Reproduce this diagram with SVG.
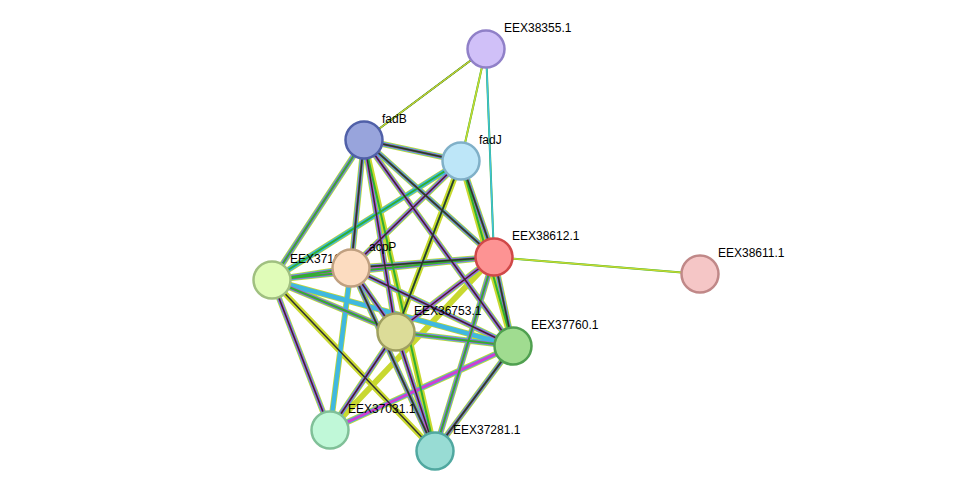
<svg xmlns="http://www.w3.org/2000/svg" width="976" height="497" viewBox="0 0 976 497">
<style>
.a{stroke:#c8d830;stroke-width:6;fill:none}
.b{stroke:#40b8e0;stroke-width:4.5;fill:none}
.c{stroke:#d040d0;stroke-width:3;fill:none}
.d{stroke:#303030;stroke-width:1.5;fill:none}
.g{stroke:#30b030;stroke-width:2;fill:none}
.n{stroke-width:2.5}
text{font-family:"Liberation Sans",Arial,sans-serif;font-size:12px;fill:#000}
</style>
<defs>
<line id="e0" x1="0" y1="0" x2="0" y2="0"/>
</defs>
<g id="connectors">
<g id="full">
<path class="a" d="M364 140L461 161M364 140L494 257M364 140L272 280M364 140L351 268M364 140L396 332M364 140L513 346M364 140L435 451M461 161L494 257M461 161L272 280M461 161L351 268M461 161L396 332M461 161L513 346M494 257L272 280M494 257L351 268M494 257L396 332M494 257L513 346M494 257L330 430M494 257L435 451M272 280L351 268M272 280L396 332M272 280L513 346M272 280L330 430M272 280L435 451M351 268L396 332M351 268L513 346M351 268L330 430M351 268L435 451M396 332L513 346M396 332L330 430M396 332L435 451M513 346L330 430M513 346L435 451"/>
<path class="b" d="M364 140L461 161M364 140L494 257M364 140L272 280M364 140L351 268M364 140L396 332M364 140L513 346M461 161L494 257M461 161L272 280M461 161L351 268M494 257L272 280M494 257L351 268M494 257L396 332M494 257L513 346M494 257L435 451M272 280L351 268M272 280L396 332M272 280L513 346M272 280L330 430M351 268L396 332M351 268L513 346M351 268L330 430M351 268L435 451M396 332L513 346M396 332L330 430M396 332L435 451M513 346L330 430M513 346L435 451"/>
<path class="c" d="M364 140L461 161M364 140L494 257M364 140L272 280M364 140L351 268M364 140L396 332M364 140L513 346M461 161L494 257M461 161L351 268M494 257L272 280M494 257L351 268M494 257L396 332M494 257L513 346M494 257L435 451M272 280L351 268M272 280L396 332M272 280L330 430M351 268L396 332M351 268L513 346M351 268L435 451M396 332L513 346M396 332L330 430M396 332L435 451M513 346L330 430M513 346L435 451"/>
<path class="g" d="M486 49L364 140M486 49L461 161M486 49L494 257M494 257L700 274M364 140L461 161M364 140L494 257M364 140L272 280M364 140L351 268M364 140L435 451M461 161L494 257M461 161L272 280M461 161L396 332M461 161L513 346M494 257L272 280M494 257L351 268M494 257L513 346M494 257L435 451M272 280L351 268M272 280L396 332M351 268L435 451M396 332L513 346M513 346L435 451"/>
<path class="d" d="M486 49L364 140M364 140L461 161M364 140L494 257M364 140L351 268M364 140L396 332M364 140L513 346M461 161L494 257M461 161L351 268M461 161L396 332M494 257L351 268M494 257L396 332M494 257L513 346M272 280L330 430M272 280L435 451M351 268L396 332M351 268L513 346M351 268L435 451M396 332L330 430M396 332L435 451M513 346L435 451"/>
<path stroke="#c8d830" stroke-width="1.5" fill="none" d="M486 49L364 140M486 49L461 161M494 257L700 274"/>
<path stroke="#40c0e0" stroke-width="1.5" fill="none" d="M486 49L494 257"/>
</g>
</g>
<g id="nodes">
<g id="EEX38355.1"><circle class="n" cx="486" cy="49" r="18.5" fill="#d0c0f8" stroke="#9080c8"/><text x="504" y="32">EEX38355.1</text></g>
<g id="fadB"><circle class="n" cx="364" cy="140" r="18.5" fill="#98a4dc" stroke="#5060a8"/><text x="382" y="123">fadB</text></g>
<g id="fadJ"><circle class="n" cx="461" cy="161" r="18.5" fill="#bde6f8" stroke="#80b0c8"/><text x="479" y="144">fadJ</text></g>
<g id="EEX38612.1"><circle class="n" cx="494" cy="257" r="18.5" fill="#fd9393" stroke="#d04848"/><text x="512" y="240">EEX38612.1</text></g>
<g id="EEX38611.1"><circle class="n" cx="700" cy="274" r="18.5" fill="#f5c6c6" stroke="#c08888"/><text x="718" y="257">EEX38611.1</text></g>
<g id="EEX37164.1"><circle class="n" cx="272" cy="280" r="18.5" fill="#e0fcb8" stroke="#a0c080"/><text x="290" y="263">EEX37164.1</text></g>
<g id="acpP"><circle class="n" cx="351" cy="268" r="18.5" fill="#fcdcc0" stroke="#c0a080"/><text x="369" y="251">acpP</text></g>
<g id="EEX36753.1"><circle class="n" cx="396" cy="332" r="18.5" fill="#dcdc98" stroke="#a0a060"/><text x="414" y="315">EEX36753.1</text></g>
<g id="EEX37760.1"><circle class="n" cx="513" cy="346" r="18.5" fill="#a0dc90" stroke="#50a050"/><text x="531" y="329">EEX37760.1</text></g>
<g id="EEX37031.1"><circle class="n" cx="330" cy="430" r="18.5" fill="#c0f8d8" stroke="#80c098"/><text x="348" y="413">EEX37031.1</text></g>
<g id="EEX37281.1"><circle class="n" cx="435" cy="451" r="18.5" fill="#98dcd4" stroke="#50a8a0"/><text x="453" y="434">EEX37281.1</text></g>
</g>
</svg>
